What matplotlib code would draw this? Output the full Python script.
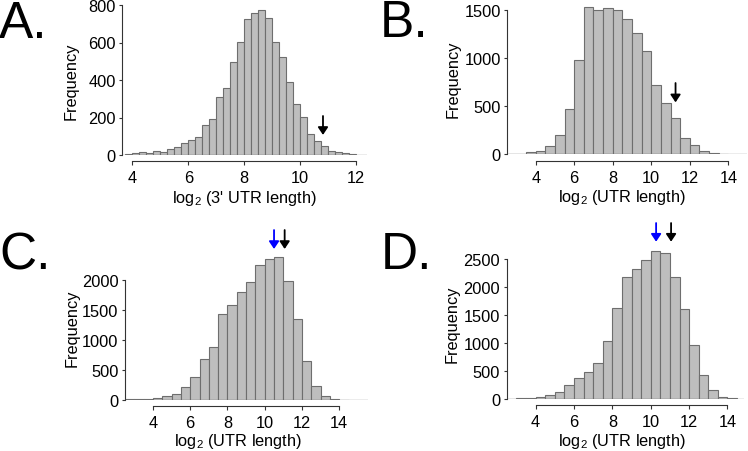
import matplotlib
matplotlib.use('Agg')
import matplotlib.pyplot as plt
import numpy as np

plt.rcParams['font.family'] = ['Liberation Sans', 'DejaVu Sans']

W, H = 748, 452

# --- data ---
# A: 3' UTR lengths, 0.25 wide bins starting at 3.75
a_start, a_width = 3.75, 0.25
a_counts = [5, 12, 16, 11, 23, 16, 32, 43, 64, 80, 96, 162, 192, 308, 356, 496,
            603, 727, 760, 773, 729, 603, 521, 388, 271, 201, 112, 73, 47, 23, 14, 9, 4]
a_arrows = [(10.81, 208, 107, 'black')]

# B..D: UTR lengths, 0.5 wide bins starting at 2.5
b_start, b_width = 2.5, 0.5
b_counts = [3, 8, 20, 31, 86, 200, 473, 985, 1534, 1503, 1524, 1503, 1403, 1265,
            1078, 719, 529, 377, 166, 97, 31, 17, 7]
b_arrows = [(11.26, 741, 540, 'black')]

c_start, c_width = 2.5, 0.5
c_counts = [11, 17, 22, 33, 67, 100, 211, 378, 678, 883, 1428, 1578, 1794, 1961,
            2244, 2344, 2389, 1978, 1356, 650, 228, 61, 22, 6]
c_arrows = [(10.5, 2833, 2517, 'blue'), (11.07, 2833, 2517, 'black')]

d_start, d_width = 2.5, 0.5
d_counts = [2, 4, 18, 24, 60, 113, 239, 364, 477, 632, 1044, 1635, 2178, 2333,
            2482, 2655, 2620, 2184, 1617, 961, 418, 149, 24, 6]
d_arrows = [(10.28, 3153, 2818, 'blue'), (11.06, 3153, 2818, 'black')]

a_xticks = [4, 6, 8, 10, 12]
bcd_xticks = [4, 6, 8, 10, 12, 14]
a_yticks = [0, 200, 400, 600, 800]
b_yticks = [0, 500, 1000, 1500]
c_yticks = [0, 500, 1000, 1500, 2000]
d_yticks = [0, 500, 1000, 1500, 2000, 2500]

xlab_a = "log$_\\mathregular{2}$ (3' UTR length)"
xlab_other = "log$_\\mathregular{2}$ (UTR length)"

bar_face = '#bebebe'
bar_edge = '#6e6e6e'
axis_col = '#333333'

# panel layout in pixels: left, right, top, baseline ; plus axis limits
panels = [
    dict(letter='A.', counts=a_counts, start=a_start, width=a_width, arrows=a_arrows,
         xticks=a_xticks, yticks=a_yticks, xlabel=xlab_a,
         box=(122.3, 366.7, 6, 156), xlim=(3.643, 12.371), ytop=800,
         letter_xy=(-1, 38), ylab_xy=(71, 81), xlab_xy=(244, 203)),
    dict(letter='B.', counts=b_counts, start=b_start, width=b_width, arrows=b_arrows,
         xticks=bcd_xticks, yticks=b_yticks, xlabel=xlab_other,
         box=(507.3, 747, 4, 155.3), xlim=(2.525, 14.97), ytop=1573,
         letter_xy=(380, 37), ylab_xy=(453, 79), xlab_xy=(622, 202)),
    dict(letter='C.', counts=c_counts, start=c_start, width=c_width, arrows=c_arrows,
         xticks=bcd_xticks, yticks=c_yticks, xlabel=xlab_other,
         box=(125, 368.3, 250, 401), xlim=(2.5, 15.56), ytop=2517,
         letter_xy=(-1, 269), ylab_xy=(72, 328), xlab_xy=(238, 446)),
    dict(letter='D.', counts=d_counts, start=d_start, width=d_width, arrows=d_arrows,
         xticks=bcd_xticks, yticks=d_yticks, xlabel=xlab_other,
         box=(506.7, 744, 250, 399.7), xlim=(2.494, 14.86), ytop=2687,
         letter_xy=(381, 269), ylab_xy=(452, 324), xlab_xy=(622, 446)),
]

fig = plt.figure(figsize=(W / 100, H / 100), dpi=100)

for p in panels:
    l, r, t, b = p['box']
    ax = fig.add_axes([l / W, 1 - b / H, (r - l) / W, (b - t) / H])
    counts = np.array(p['counts'])
    lefts = p['start'] + p['width'] * np.arange(len(counts))
    ax.bar(lefts, counts, width=p['width'], align='edge', color=bar_face,
           edgecolor=bar_edge, linewidth=0.8, zorder=2)
    ax.axhline(0, color=bar_edge, lw=0.9, zorder=3)
    ax.set_xlim(*p['xlim'])
    ax.set_ylim(0, p['ytop'])
    ax.patch.set_visible(False)

    for s in ['top', 'right']:
        ax.spines[s].set_visible(False)
    ax.spines['left'].set_bounds(p['yticks'][0], p['yticks'][-1])
    ax.spines['bottom'].set_bounds(p['xticks'][0], p['xticks'][-1])
    ax.spines['bottom'].set_position(('outward', 4.6))
    for s in ['left', 'bottom']:
        ax.spines[s].set_color(axis_col)
        ax.spines[s].set_linewidth(0.8)

    ax.set_xticks(p['xticks'])
    ax.set_yticks(p['yticks'])
    ax.tick_params(axis='x', length=3, width=0.8, pad=3.5, labelsize=11.8, color=axis_col)
    ax.tick_params(axis='y', length=2.2, width=0.8, pad=2.5, labelsize=11.8, color=axis_col)

    for x, ytop, ytip, col in p['arrows']:
        ax.annotate('', xy=(x, ytip), xytext=(x, ytop),
                    arrowprops=dict(arrowstyle='-|>,head_length=0.45,head_width=0.3',
                                    color=col, lw=1.3, shrinkA=0, shrinkB=0),
                    annotation_clip=False, zorder=5)

    lx, ly = p['letter_xy']
    fig.text(lx / W, 1 - ly / H, p['letter'], fontsize=37, ha='left', va='baseline')
    yx, yy = p['ylab_xy']
    fig.text(yx / W, 1 - yy / H, 'Frequency', fontsize=11.8, rotation=90,
             ha='center', va='center')
    xx, xy = p['xlab_xy']
    fig.text(xx / W, 1 - xy / H, p['xlabel'], fontsize=11.8, ha='center', va='baseline')

fig.savefig('out.png', dpi=100)
